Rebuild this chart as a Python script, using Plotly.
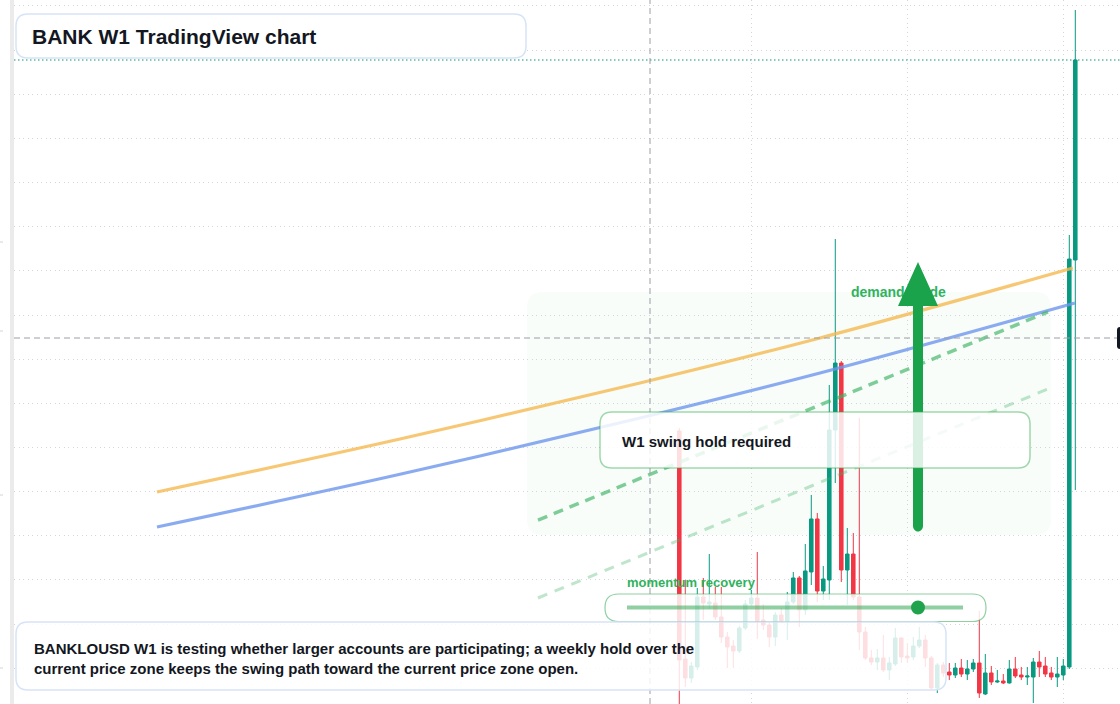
import plotly.graph_objects as go

# ---------------- data ----------------
bar_index = list(range(67))
open_ = [4.186, 1.604, 1.389, 1.514, 2.306, 2.227, 2.238, 2.080, 1.853, 1.751,
         1.695, 1.955, 2.227, 2.295, 2.046, 1.989, 1.853, 2.102, 2.034, 2.250,
         2.522, 2.159, 2.590, 3.190, 2.374, 2.499, 4.198, 4.956, 2.612, 2.793,
         2.306, 1.910, 1.616, 1.570, 1.616, 1.480, 1.548, 1.842, 1.638, 1.627,
         1.751, 1.819, 1.616, 1.276, 1.536, 1.457, 1.423, 1.502, 1.434, 1.491,
         1.559, 1.208, 1.446, 1.344, 1.355, 1.333, 1.491, 1.423, 1.400, 1.400,
         1.570, 1.525, 1.446, 1.400, 1.423, 1.514, 6.123]
high_ = [4.220, 2.499, 1.570, 2.408, 2.522, 2.793, 2.420, 2.420, 1.910, 1.819,
         1.978, 2.272, 2.386, 2.816, 2.227, 2.023, 2.136, 2.182, 2.363, 2.590,
         2.544, 2.907, 3.462, 3.258, 2.657, 4.707, 6.361, 4.979, 3.088, 3.031,
         4.334, 1.967, 1.706, 1.717, 1.876, 1.627, 1.955, 1.850, 1.785, 1.853,
         1.967, 1.876, 1.638, 1.559, 1.570, 1.559, 1.559, 1.604, 1.593, 1.604,
         2.148, 1.661, 1.525, 1.480, 1.434, 1.593, 1.627, 1.514, 1.514, 1.616,
         1.695, 1.627, 1.514, 1.627, 1.604, 6.406, 8.954]
low_ = [1.027, 1.287, 1.333, 1.480, 2.046, 2.170, 2.046, 1.785, 1.502, 1.502,
        1.672, 1.933, 2.204, 1.831, 1.933, 1.740, 1.751, 2.012, 1.819, 2.227,
        1.967, 2.102, 2.442, 2.250, 2.272, 2.272, 3.597, 2.476, 2.216, 2.272,
        1.706, 1.593, 1.536, 1.480, 1.457, 1.366, 1.525, 1.559, 1.559, 1.593,
        1.729, 1.514, 1.253, 1.219, 1.400, 1.366, 1.389, 1.400, 1.366, 1.457,
        1.163, 1.197, 1.310, 1.333, 1.321, 1.325, 1.389, 1.366, 1.310, 1.106,
        1.400, 1.400, 1.366, 1.287, 1.366, 1.491, 3.518]
close_ = [1.593, 1.389, 1.525, 2.306, 2.238, 2.250, 2.080, 1.853, 1.740, 1.695,
          1.955, 2.227, 2.295, 2.034, 1.989, 1.853, 2.102, 2.034, 2.250, 2.522,
          2.159, 2.601, 3.190, 2.374, 2.510, 4.198, 4.956, 2.612, 2.793, 2.306,
          1.910, 1.616, 1.570, 1.616, 1.480, 1.559, 1.842, 1.627, 1.616, 1.751,
          1.819, 1.616, 1.276, 1.536, 1.446, 1.423, 1.502, 1.434, 1.491, 1.559,
          1.219, 1.446, 1.344, 1.355, 1.333, 1.491, 1.412, 1.400, 1.412, 1.570,
          1.514, 1.434, 1.400, 1.434, 1.525, 6.134, 8.388]

# guide lines (bar index, price)
orange_x = [-87.05, -46.55, -6.55, 23.45, 65.6]
orange_y = [3.496, 4.096, 4.730, 5.240, 6.032]
blue_x = [-87.05, -46.55, -6.55, 23.45, 65.93]
blue_y = [3.099, 3.696, 4.334, 4.843, 5.636]
channel_x = [-23.55, 61.45]
channel_upper = [3.178, 5.534]
channel_lower = [2.295, 4.662]

grid_bars = [12, 38, 64]
x_range = [-110.88, 73.45]
y_range = [1.0946, 9.0674]

title_text = "BANK W1 TradingView chart"
note_text = ("BANKLOUSD W1 is testing whether larger accounts are participating; a weekly hold over the<br>"
             "current price zone keeps the swing path toward the current price zone open.")
swing_text = "W1 swing hold required"
momentum_text = "momentum recovery"
demand_text = "demand guide"
demand_pos = (28.6, 5.749)

# ---------------- layout helpers ----------------
W, H = 1120, 704
LM = 14
PW = W - LM


def px(x):
    return (x - LM) / PW


def py(y):
    return (H - y) / H


def P(x, y):
    return f"{px(x):.5f},{py(y):.5f}"


def rrect(x0, y0, x1, y1, r):
    return (f"M{P(x0 + r, y0)} L{P(x1 - r, y0)} Q{P(x1, y0)} {P(x1, y0 + r)} "
            f"L{P(x1, y1 - r)} Q{P(x1, y1)} {P(x1 - r, y1)} L{P(x0 + r, y1)} "
            f"Q{P(x0, y1)} {P(x0, y1 - r)} L{P(x0, y0 + r)} Q{P(x0, y0)} {P(x0 + r, y0)} Z")


GREEN_UP = "#089981"
RED_DN = "#f23645"
FONT = "Liberation Sans, Arial, sans-serif"
INK = "#131722"
GRID = "#d3d6dc"

fig = go.Figure()

fig.add_trace(go.Candlestick(
    x=bar_index, open=open_, high=high_, low=low_, close=close_,
    increasing=dict(line=dict(color=GREEN_UP, width=1), fillcolor=GREEN_UP),
    decreasing=dict(line=dict(color=RED_DN, width=1), fillcolor=RED_DN),
    whiskerwidth=0, hoverinfo="skip", showlegend=False))

fig.add_trace(go.Scatter(x=orange_x, y=orange_y, mode="lines",
                         line=dict(color="rgba(245,185,80,0.8)", width=3.2, shape="spline"),
                         hoverinfo="skip", showlegend=False))
fig.add_trace(go.Scatter(x=blue_x, y=blue_y, mode="lines",
                         line=dict(color="rgba(110,150,238,0.8)", width=3.2, shape="spline"),
                         hoverinfo="skip", showlegend=False))
fig.add_trace(go.Scatter(x=channel_x, y=channel_upper, mode="lines",
                         line=dict(color="rgba(60,180,100,0.65)", width=3.5, dash="10px,7px"),
                         hoverinfo="skip", showlegend=False))
fig.add_trace(go.Scatter(x=channel_x, y=channel_lower, mode="lines",
                         line=dict(color="rgba(60,180,100,0.33)", width=3, dash="10px,8px"),
                         hoverinfo="skip", showlegend=False))
fig.add_trace(go.Scatter(x=[demand_pos[0]], y=[demand_pos[1]], mode="text",
                         text=[f"<b>{demand_text}</b>"], textposition="middle right",
                         textfont=dict(family=FONT, size=14, color="#2fb360"),
                         hoverinfo="skip", showlegend=False))

shapes = []
# demand zone
shapes.append(dict(type="path", xref="paper", yref="paper", layer="below",
                   path=rrect(527, 292, 1051, 535, 16),
                   fillcolor="#f8fdf9", line=dict(width=0)))
# left panel edge and tick stubs
shapes.append(dict(type="rect", xref="paper", yref="paper", layer="above",
                   x0=px(10), x1=px(14), y0=0, y1=1,
                   fillcolor="#ebebeb", line=dict(width=0)))
for ty in (242, 331, 495, 668):
    shapes.append(dict(type="line", xref="paper", yref="paper", layer="above",
                       x0=px(0), x1=px(3), y0=py(ty), y1=py(ty),
                       line=dict(color="#d4d4d4", width=1)))
# last price line
shapes.append(dict(type="line", xref="paper", yref="y", layer="above",
                   x0=0, x1=1, y0=close_[-1], y1=close_[-1],
                   line=dict(color=GREEN_UP, width=1, dash="1.5px,2.5px")))
# crosshair
shapes.append(dict(type="line", xref="paper", yref="paper", layer="above",
                   x0=px(650), x1=px(650), y0=0, y1=1,
                   line=dict(color="#9a9ea6", width=1, dash="6px,4px")))
shapes.append(dict(type="line", xref="paper", yref="paper", layer="above",
                   x0=0, x1=1, y0=py(338), y1=py(338),
                   line=dict(color="#9a9ea6", width=1, dash="6px,4px")))
# big arrow
arrow_path = (f"M{P(918, 262)} L{P(938, 306)} L{P(923, 306)} L{P(923, 526)} "
              f"C{P(923, 529)} {P(920.8, 531.5)} {P(918, 531.5)} "
              f"C{P(915.2, 531.5)} {P(913, 529)} {P(913, 526)} "
              f"L{P(913, 306)} L{P(898, 306)} Z")
shapes.append(dict(type="path", xref="paper", yref="paper", layer="above",
                   path=arrow_path, fillcolor="#1aa34a", line=dict(width=0)))
# boxes
shapes.append(dict(type="path", xref="paper", yref="paper", layer="above",
                   path=rrect(600, 412, 1030, 468, 12),
                   fillcolor="rgba(255,255,255,0.84)",
                   line=dict(color="rgba(52,168,83,0.45)", width=1.5)))
shapes.append(dict(type="path", xref="paper", yref="paper", layer="above",
                   path=rrect(605, 594, 986, 621.5, 13.5),
                   fillcolor="rgba(255,255,255,0.84)",
                   line=dict(color="rgba(52,168,83,0.55)", width=1.2)))
shapes.append(dict(type="path", xref="paper", yref="paper", layer="above",
                   path=rrect(16, 622, 946, 690, 12),
                   fillcolor="rgba(255,255,255,0.84)",
                   line=dict(color="#d6e4f7", width=1.5)))
shapes.append(dict(type="path", xref="paper", yref="paper", layer="above",
                   path=rrect(16, 14, 526, 58, 12),
                   fillcolor="rgba(255,255,255,0.92)",
                   line=dict(color="#d6e4f7", width=1.5)))
# momentum slider
shapes.append(dict(type="line", xref="paper", yref="paper", layer="above",
                   x0=px(627), x1=px(963), y0=py(607.5), y1=py(607.5),
                   line=dict(color="rgba(52,168,83,0.55)", width=4)))
shapes.append(dict(type="circle", xref="paper", yref="paper", layer="above",
                   x0=px(911), x1=px(925), y0=py(614.5), y1=py(600.5),
                   fillcolor="#21a34e", line=dict(width=0)))
# price label stub at right edge
shapes.append(dict(type="path", xref="paper", yref="paper", layer="above",
                   path=rrect(1117, 327, 1150, 349, 3),
                   fillcolor=INK, line=dict(width=0)))

annotations = [
    dict(xref="paper", yref="paper", x=px(30), y=py(36), xanchor="left", yanchor="middle",
         text=f"<b>{title_text}</b>", showarrow=False,
         font=dict(family=FONT, size=21, color=INK)),
    dict(xref="paper", yref="paper", x=px(32), y=py(658.5), xanchor="left", yanchor="middle",
         text=f"<b>{note_text}</b>", showarrow=False, align="left",
         font=dict(family=FONT, size=15, color=INK)),
    dict(xref="paper", yref="paper", x=px(620), y=py(441.5), xanchor="left", yanchor="middle",
         text=f"<b>{swing_text}</b>", showarrow=False,
         font=dict(family=FONT, size=15, color=INK)),
    dict(xref="paper", yref="paper", x=px(625), y=py(582), xanchor="left", yanchor="middle",
         text=f"<b>{momentum_text}</b>", showarrow=False,
         font=dict(family=FONT, size=13, color="#2fb25c")),
]

fig.update_layout(
    width=W, height=H, autosize=False,
    margin=dict(l=LM, r=0, t=0, b=0, pad=0),
    paper_bgcolor="white", plot_bgcolor="white",
    showlegend=False, hovermode=False, boxgap=0.16,
    shapes=shapes, annotations=annotations,
    xaxis=dict(range=x_range, tickvals=grid_bars, showticklabels=False, ticks="",
               showgrid=True, gridcolor=GRID, griddash="1px,3.5px", gridwidth=1,
               zeroline=False, showline=False, rangeslider=dict(visible=False),
               fixedrange=True),
    yaxis=dict(range=y_range, dtick=0.5, tick0=0, showticklabels=False, ticks="",
               showgrid=True, gridcolor=GRID, griddash="1px,3.5px", gridwidth=1,
               zeroline=False, showline=False, fixedrange=True),
)

fig.write_html("out.html", config={"displayModeBar": False})
